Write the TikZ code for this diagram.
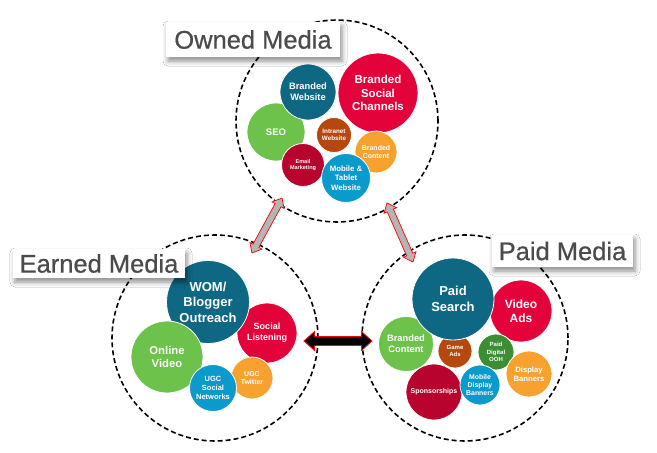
\documentclass[tikz,border=0pt]{standalone}
\usepackage{fontspec}
\setmainfont{Liberation Sans}
\newfontfamily\lblfont[FakeBold=0.6]{Liberation Sans}
\usetikzlibrary{calc,shapes.arrows,shadows.blur}
\definecolor{cteal}{HTML}{0E6783}
\definecolor{cred}{HTML}{E4023B}
\definecolor{cgreen}{HTML}{6CC24A}
\definecolor{cbrown}{HTML}{B6470E}
\definecolor{corange}{HTML}{F7A12E}
\definecolor{cdarkred}{HTML}{B8032E}
\definecolor{cblue}{HTML}{0A9ACB}
\definecolor{cdarkgreen}{HTML}{3C8E34}
\definecolor{cgray}{HTML}{B5B5B5}
\definecolor{ctext}{HTML}{4B4B4B}
\newcommand{\bubfont}[2]{\fontsize{#1pt}{#2pt}\selectfont\bfseries}
\newcommand{\fatarrow}[4]{%
  \path let \p1=($(#2)-(#1)$), \n1={atan2(\y1,\x1)}, \n2={veclen(\x1,\y1)} in
    node[#3, minimum height=\n2, rotate=\n1] (#4) at ($(#1)!0.5!(#2)$) {};}
\begin{document}
\begin{tikzpicture}[x=1pt,y=-1pt,
  dashcirc/.style={circle,draw=black,line width=1.6pt,dash pattern=on 5pt off 3pt,inner sep=0pt,minimum size=#1},
  bub/.style={circle,draw=white,line width=0.8pt,inner sep=0pt,text=white,align=center,minimum size=#1},
  lbl/.style={fill=white,text=ctext,font=\lblfont\fontsize{25.5pt}{30pt}\selectfont,inner sep=0pt,
    blur shadow={shadow xshift=2pt,shadow yshift=-4pt,shadow blur radius=5pt,shadow opacity=45}},
  grayarrow/.style={double arrow,draw=red,line width=0.7pt,fill=cgray,inner xsep=0pt,inner ysep=3pt,
    double arrow head extend=3.5pt,double arrow tip angle=80},
  blackarrow/.style={double arrow,draw=red,line width=0.8pt,fill=black,inner xsep=0pt,inner ysep=4pt,
    double arrow head extend=5pt,double arrow tip angle=84}
]
\fill[white] (0,0) rectangle (657,453);
\useasboundingbox (0,0) rectangle (657,453);

% dashed group circles
\node[dashcirc=202pt] (owned) at (337,121) {};
\node[dashcirc=206pt] (earned) at (215,338) {};
\node[dashcirc=206pt] (paid) at (465,338) {};

% Owned media bubbles
\node[bub=58pt,fill=cgreen,font=\bubfont{9.5}{11.4}] (ow-seo) at (276,132) {SEO};
\node[bub=56pt,fill=cteal,font=\bubfont{9.3}{11.2}] (ow-web) at (308,92) {Branded\\Website};
\node[bub=80pt,fill=cred,font=\bubfont{11.5}{13.8}] (ow-soc) at (378,93) {Branded\\Social\\Channels};
\node[bub=35pt,fill=cbrown,font=\bubfont{6.3}{7.6}] (ow-intra) at (334,135) {Intranet\\Website};
\node[bub=42pt,fill=corange,font=\bubfont{7}{8.4}] (ow-cont) at (376,152) {Branded\\Content};
\node[bub=43pt,fill=cdarkred,font=\bubfont{5.5}{6.8}] (ow-mail) at (303,165) {Email\\Marketing};
\node[bub=49pt,fill=cblue,font=\bubfont{7.8}{9.4}] (ow-mob) at (346,178) {Mobile \&\\Tablet\\Website};

% Earned media bubbles
\node[bub=60pt,fill=cred,font=\bubfont{9}{10.8}] (ea-soc) at (267,333) {Social\\Listening};
\node[bub=83pt,fill=cteal,font=\bubfont{13}{15.6}] (ea-wom) at (208,302) {WOM/\\Blogger\\Outreach};
\node[bub=72pt,fill=cgreen,font=\bubfont{11.3}{13.6}] (ea-vid) at (167,357) {Online\\Video};
\node[bub=42pt,fill=corange,font=\bubfont{7}{8.4}] (ea-tw) at (252,378) {UGC\\Twitter};
\node[bub=47pt,fill=cblue,font=\bubfont{7.5}{9}] (ea-ugcs) at (213,388) {UGC\\Social\\Networks};

% Paid media bubbles
\node[bub=55pt,fill=cgreen,font=\bubfont{9.3}{11.2}] (pa-cont) at (406,344) {Branded\\Content};
\node[bub=62pt,fill=cred,font=\bubfont{12}{14.4}] (pa-vid) at (521,311) {Video\\Ads};
\node[bub=34pt,fill=cbrown,font=\bubfont{6}{7.2}] (pa-game) at (455,351) {Game\\Ads};
\node[bub=36pt,fill=cdarkgreen,font=\bubfont{6}{7.2}] (pa-ooh) at (496,352) {Paid\\Digital\\OOH};
\node[bub=82pt,fill=cteal,font=\bubfont{13}{15.6}] (pa-srch) at (453,299) {Paid\\Search};
\node[bub=46pt,fill=corange,font=\bubfont{7.7}{9.2}] (pa-disp) at (529,374) {Display\\Banners};
\node[bub=56pt,fill=cdarkred,font=\bubfont{7}{8.4}] (pa-spon) at (434,392) {Sponsorships};
\node[bub=40pt,fill=cblue,font=\bubfont{6.9}{8.3}] (pa-mob) at (480,385) {Mobile\\Display\\Banners};

% connectors between the groups
\coordinate (a1s) at (282,198);
\coordinate (a1e) at (252,253);
\coordinate (a2s) at (387,203);
\coordinate (a2e) at (413,262);
\coordinate (a3s) at (304,341);
\coordinate (a3e) at (372,341);
\fatarrow{a1s}{a1e}{grayarrow}{arrOE}
\fatarrow{a2s}{a2e}{grayarrow}{arrOP}
\fatarrow{a3s}{a3e}{blackarrow}{arrEP}

% labels
\node[lbl,minimum width=174pt,minimum height=35pt] (lown) at (253,39.5) {Owned Media};
\node[lbl,minimum width=172pt,minimum height=29pt] (learn) at (99,263.5) {Earned Media};
\node[lbl,minimum width=141pt,minimum height=32pt] (lpaid) at (562.5,251) {Paid Media};
\end{tikzpicture}
\end{document}
